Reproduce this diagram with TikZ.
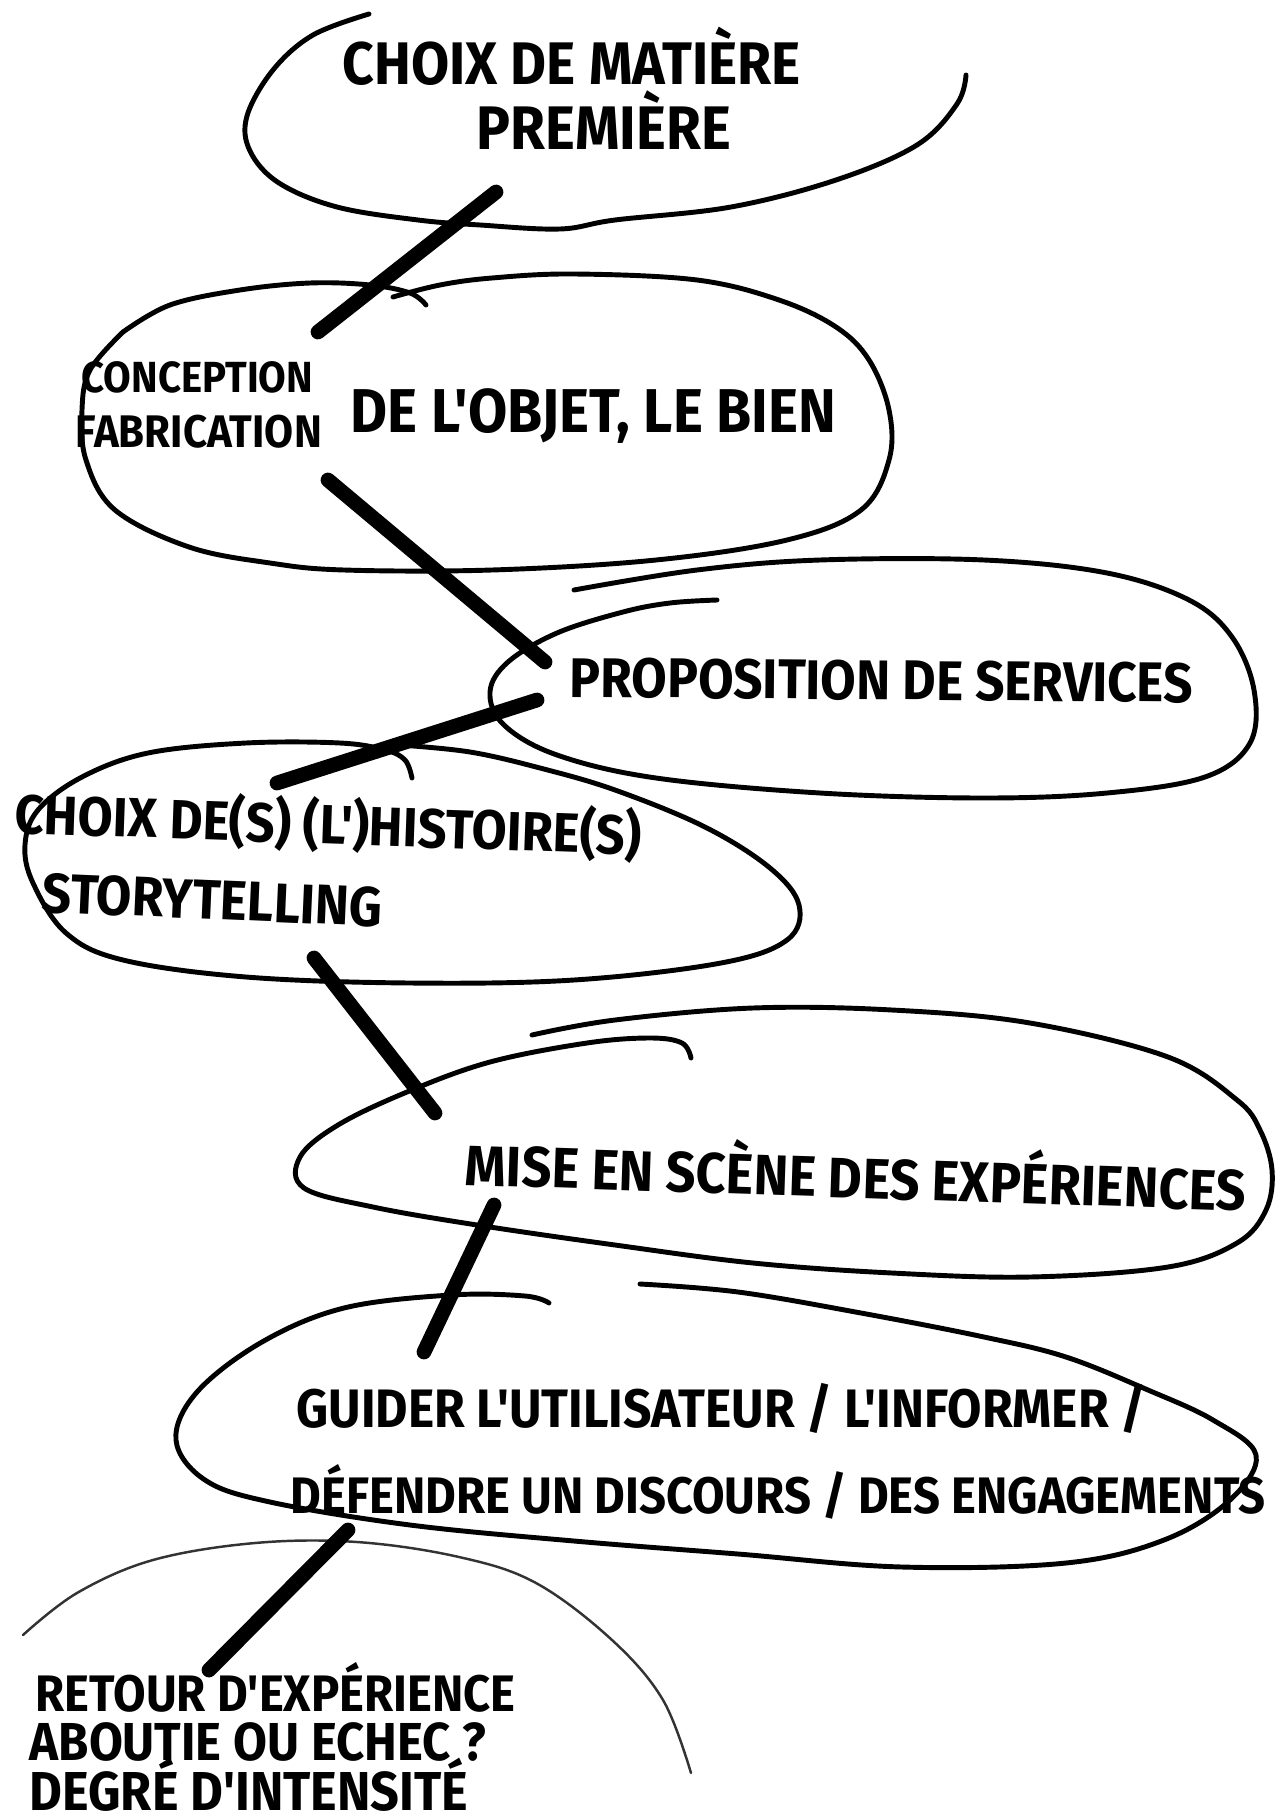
\documentclass[tikz,border=0pt]{standalone}
\usepackage{fontspec}
\newfontfamily\hand[FakeStretch=0.92]{Fira Sans}
\tikzset{
    %Define style for the bubble outlines
    rim/.style={
           line width=1.4pt,
           line cap=round,
           line join=round},
    rimlight/.style={
           line width=0.7pt,
           draw=black!80,
           line cap=round},
    % Define style for the thick links
    link/.style={
           line width=4.2pt,
           line cap=round},
    % Define style for the handwritten labels
    hw/.style={
           anchor=base west,
           inner sep=0pt,
           font=\hand\bfseries\fontsize{#1}{#1}\selectfont}
}
\begin{document}
\begin{tikzpicture}[x=0.1mm,y=-0.1mm]
\useasboundingbox (0,0) rectangle (1279,1820);
% bubbles
\draw[rim] plot[smooth, tension=0.6] coordinates {(369,14) (313,35) (273,70) (247,116) (250,151) (279,183) (337,207) (418,220) (480,225) (560,229) (615,220) (731,207) (836,180) (917,145) (957,104) (966,75)};
\draw[rim] plot[smooth, tension=0.6] coordinates {(123,332) (170,305) (240,290) (310,283) (370,285) (410,293) (426,305)};
\draw[rim] plot[smooth, tension=0.6] coordinates {(393,297) (440,285) (492,278) (574,274) (697,280) (779,300) (836,327) (869,360) (889,410) (889,460) (861,510) (787,540) (656,560) (492,570) (344,570) (270,563) (189,547) (115,510) (86,460) (82,410) (90,370) (123,332)};
\draw[rim] plot[smooth, tension=0.6] coordinates {(717,600) (670,603) (623,612) (557,633) (508,662) (490,692) (504,725) (557,755) (656,778) (820,793) (984,798) (1107,793) (1205,777) (1250,743) (1254,690) (1232,637) (1189,600) (1107,573) (984,560) (820,560) (697,570) (574,590)};
\draw[rim] plot[smooth, tension=0.6] coordinates {(412,778) (405,760) (385,750) (340,743) (246,743) (148,753) (82,777) (38,810) (25,845) (33,883) (66,933) (123,960) (246,977) (410,983) (574,980) (721,963) (787,940) (799,905) (770,868) (705,827) (615,790) (540,768) (470,752) (400,745)};
\draw[rim] plot[smooth, tension=0.6] coordinates {(691,1058) (682,1043) (650,1038) (587,1043) (490,1062) (407,1092) (338,1125) (300,1157) (304,1188) (373,1207) (477,1225) (615,1245) (753,1263) (892,1273) (1030,1277) (1168,1267) (1237,1243) (1266,1210) (1272,1170) (1260,1130) (1237,1100) (1168,1057) (1030,1023) (892,1010) (753,1008) (615,1020) (532,1035)};
\draw[rim] plot[smooth, tension=0.6] coordinates {(549,1303) (525,1296) (451,1295) (344,1308) (262,1342) (197,1392) (176,1440) (205,1480) (270,1502) (410,1525) (574,1541) (738,1554) (902,1567) (1066,1563) (1164,1540) (1230,1500) (1256,1455) (1213,1420) (1148,1390) (1066,1357) (984,1337) (861,1313) (738,1292) (640,1284)};
\draw[rimlight] plot[smooth, tension=0.6] coordinates {(23,1635) (77,1593) (153,1560) (255,1543) (357,1542) (459,1557) (536,1583) (612,1640) (663,1700) (691,1773)};
% labels
\node[hw=17.1] (choix) at (342,85) {CHOIX DE MATIÈRE};
\node[hw=17.5] (premiere) at (476,150) {PREMIÈRE};
\node[hw=12.4] (conception) at (81,392) {CONCEPTION};
\node[hw=13] (fabrication) at (75,447) {FABRICATION};
\node[hw=17.6] (objet) at (350,432) {DE L'OBJET, LE BIEN};
\node[hw=15.9, rotate=-0.5] (services) at (569,697) {PROPOSITION DE SERVICES};
\node[hw=15.7, rotate=-2] (histoire) at (14,833) {CHOIX DE(S) (L')HISTOIRE(S)};
\node[hw=15.9, rotate=-2.5] (story) at (41,912) {STORYTELLING};
\node[hw=16.2, rotate=-1.9] (mise) at (464,1185) {MISE EN SCÈNE DES EXPÉRIENCES};
\node[hw=15.4] (guider) at (296,1427) {GUIDER L'UTILISATEUR / L'INFORMER /};
\node[hw=14.6] (defendre) at (290,1513) {DÉFENDRE UN DISCOURS / DES ENGAGEMENTS};
\node[hw=14.6] (retour) at (35,1711) {RETOUR D'EXPÉRIENCE};
\node[hw=15.2] (aboutie) at (29,1760) {ABOUTIE OU ECHEC ?};
\node[hw=15.6] (degre) at (29,1810) {DEGRÉ D'INTENSITÉ};
% links
\coordinate (l1a) at (496,192);  \coordinate (l1b) at (318,332);
\coordinate (l2a) at (328,480);  \coordinate (l2b) at (545,662);
\coordinate (l3a) at (537,700);  \coordinate (l3b) at (277,783);
\coordinate (l4a) at (314,958);  \coordinate (l4b) at (435,1113);
\coordinate (l5a) at (494,1205); \coordinate (l5b) at (424,1352);
\coordinate (l6a) at (348,1530); \coordinate (l6b) at (209,1670);
\path
	(l1a) edge[link] (l1b)
	(l2a) edge[link] (l2b)
	(l3a) edge[link] (l3b)
	(l4a) edge[link] (l4b)
	(l5a) edge[link] (l5b)
	(l6a) edge[link] (l6b);
\end{tikzpicture}
\end{document}
